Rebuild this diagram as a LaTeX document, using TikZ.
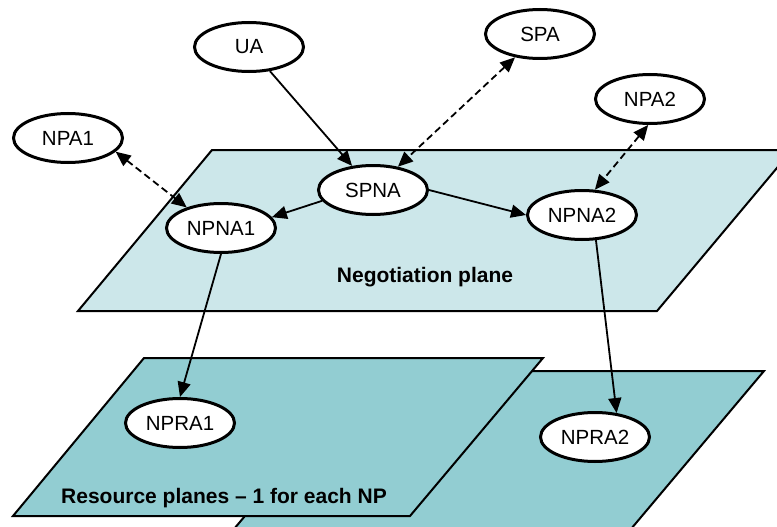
\documentclass[tikz,border=0pt]{standalone}
\usepackage{fontspec}
\setmainfont{Liberation Sans}
\usetikzlibrary{shapes.geometric,arrows.meta}
\definecolor{negplane}{HTML}{CCE7EA}
\definecolor{resplane}{HTML}{92CDD2}
\begin{document}
\begin{tikzpicture}[x=1pt,y=-1pt,
  agent/.style={ellipse,draw,line width=3pt,fill=white,minimum width=109pt,minimum height=49pt,inner sep=0pt,font=\fontsize{20.5}{24}\selectfont},
  plane/.style={draw,line width=2pt,line join=miter},
  conn/.style={line width=1.8pt,-{Triangle[length=15pt,width=13pt]}},
  dconn/.style={line width=1.8pt,dash pattern=on 7pt off 4pt,{Triangle[length=15pt,width=13pt]}-{Triangle[length=15pt,width=13pt]}},
  lbl/.style={font=\bfseries\fontsize{21}{24}\selectfont}]
\useasboundingbox (0,0) rectangle (777,527);
\clip (0,0) rectangle (777,527);
% planes
\draw[plane,fill=resplane] (367,371) -- (764,371) -- (631,529) -- (234,529) -- cycle;
\draw[plane,fill=resplane] (144,358) -- (543,358) -- (410,516) -- (13,516) -- cycle;
\draw[plane,fill=negplane] (212,150) -- (792,150) -- (657,311) -- (78,311) -- cycle;
\node[lbl] (neglbl) at (425,277) {Negotiation plane};
\node[lbl] (reslbl) at (224,498) {Resource planes -- 1 for each NP};
% agents
\node[agent] (UA) at (249,47) {UA};
\node[agent] (SPA) at (540,34) {SPA};
\node[agent] (NPA1) at (68,138) {NPA1};
\node[agent] (NPA2) at (650,99) {NPA2};
\node[agent] (SPNA) at (373,190) {SPNA};
\node[agent] (NPNA1) at (221,228) {NPNA1};
\node[agent] (NPNA2) at (582,215) {NPNA2};
\node[agent] (NPRA1) at (180,423) {NPRA1};
\node[agent] (NPRA2) at (595,437) {NPRA2};
% connectors
\draw[conn] (UA) -- (SPNA);
\draw[conn] (SPNA.192) -- (NPNA1.12);
\draw[conn] (SPNA.east) -- (NPNA2.west);
\draw[dconn] (SPA) -- (SPNA);
\draw[dconn] (NPA1.-16) -- (NPNA1.149);
\draw[dconn] (NPA2.-94) -- (NPNA2.63);
\draw[conn] (NPNA1.south) -- (NPRA1.north);
\draw[conn] (NPNA2.-61) -- (NPRA2.48);
\end{tikzpicture}
\end{document}
